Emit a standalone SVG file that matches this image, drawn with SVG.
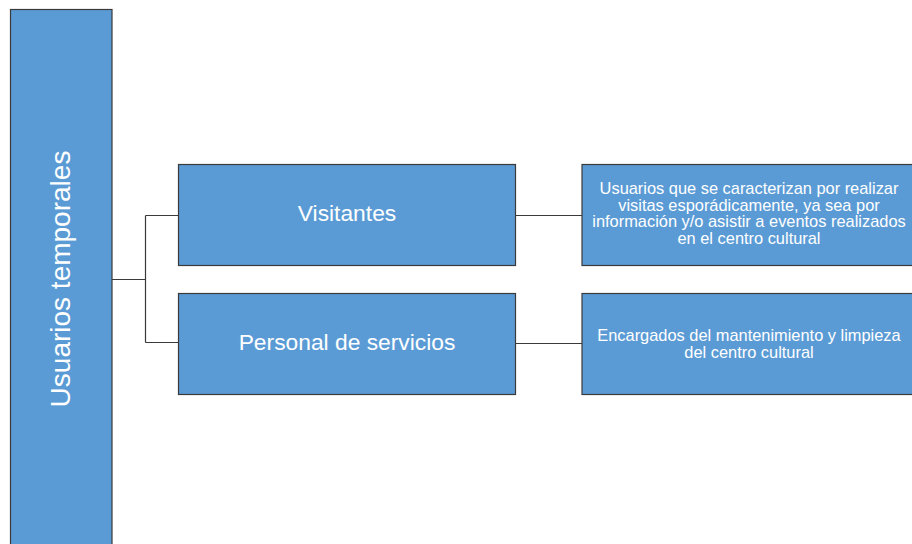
<svg xmlns="http://www.w3.org/2000/svg" width="912" height="544" viewBox="0 0 912 544">
<style>
.box{fill:#5B9BD5;stroke:#3a3a3a;stroke-width:1.2}
.t{fill:#ffffff;font-family:"Liberation Sans",Arial,sans-serif;text-anchor:middle}
.big{font-size:22.8px}
.small{font-size:16.4px}
.c{fill:none;stroke:#3a3a3a;stroke-width:1.2}
</style>
<rect width="912" height="544" fill="#ffffff"/>
<g id="connectors">
<path class="c" d="M112 279.5H145.5M145.5 215.5V342.5M145.5 215.5H178.5M145.5 342.5H178.5"/>
<path class="c" d="M515.5 215.5H582"/>
<path class="c" d="M515.5 343.5H582"/>
</g>
<g id="usuarios-temporales">
<rect class="box" x="10.5" y="9.5" width="101.5" height="545"/>
<text class="t" font-size="28" transform="translate(70 279) rotate(-90)">Usuarios temporales</text>
</g>
<g id="visitantes">
<rect class="box" x="178.5" y="164.5" width="337" height="101"/>
<text class="t big" x="347" y="221">Visitantes</text>
</g>
<g id="personal">
<rect class="box" x="178.5" y="293.5" width="337" height="101"/>
<text class="t big" x="347" y="350">Personal de servicios</text>
</g>
<g id="desc-visitantes">
<rect class="box" x="582" y="164.5" width="336" height="101"/>
<text class="t small" x="749"><tspan x="749" y="194">Usuarios que se caracterizan por realizar</tspan><tspan x="749" y="210.6">visitas esporádicamente, ya sea por</tspan><tspan x="749" y="227.2">información y/o asistir a eventos realizados</tspan><tspan x="749" y="243.8">en el centro cultural</tspan></text>
</g>
<g id="desc-personal">
<rect class="box" x="582" y="293.5" width="336" height="101"/>
<text class="t small" x="749"><tspan x="749" y="341">Encargados del mantenimiento y limpieza</tspan><tspan x="749" y="357.6">del centro cultural</tspan></text>
</g>
</svg>
